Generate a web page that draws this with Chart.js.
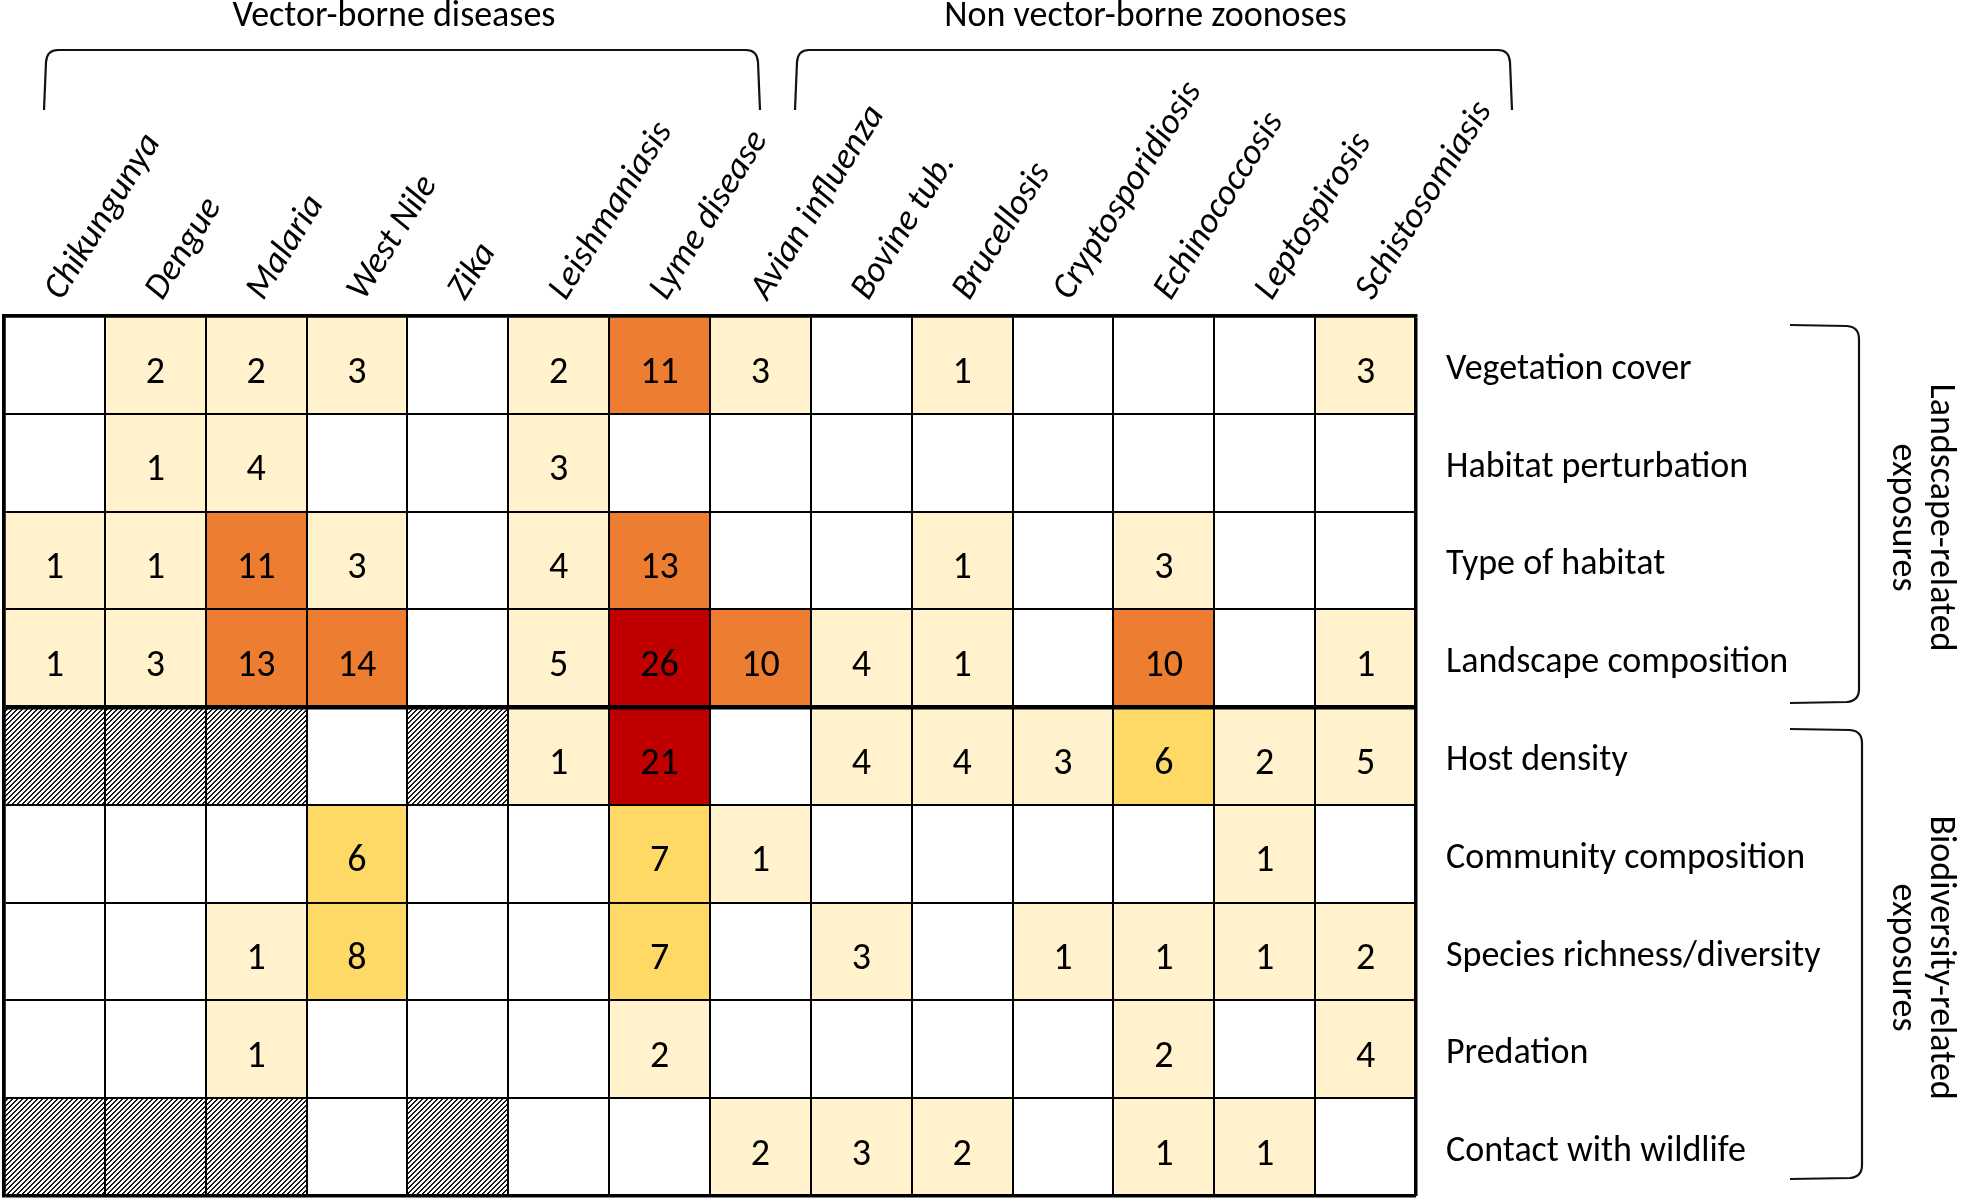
<!DOCTYPE html>
<html>
<head>
<meta charset="utf-8">
<title>Exposures by disease</title>
<script src="https://cdn.jsdelivr.net/npm/chart.js@4.4.1/dist/chart.umd.min.js"></script>
<style>
  html, body { margin: 0; padding: 0; background: #fff; }
  canvas { display: block; }
</style>
</head>
<body>
<canvas id="heatmap" width="1961" height="1199"></canvas>
<script>
'use strict';

// columns (diseases) and rows (exposures)
const diseases = ['Chikungunya', 'Dengue', 'Malaria', 'West Nile', 'Zika', 'Leishmaniasis', 'Lyme disease',
  'Avian influenza', 'Bovine tub.', 'Brucellosis', 'Cryptosporidiosis', 'Echinococcosis', 'Leptospirosis', 'Schistosomiasis'];
const exposures = ['Vegetation cover', 'Habitat perturbation', 'Type of habitat', 'Landscape composition',
  'Host density', 'Community composition', 'Species richness/diversity', 'Predation', 'Contact with wildlife'];

const diseaseGroups = ['Vector-borne diseases', 'Non vector-borne zoonoses'];
const exposureGroups = [['Landscape-related', 'exposures'], ['Biodiversity-related', 'exposures']];

// number of studies per cell, null = none, NA = not applicable (hatched)
const NA = 'na';
const vegetationCover      = [null, 2, 2, 3, null, 2, 11, 3, null, 1, null, null, null, 3];
const habitatPerturbation  = [null, 1, 4, null, null, 3, null, null, null, null, null, null, null, null];
const typeOfHabitat        = [1, 1, 11, 3, null, 4, 13, null, null, 1, null, 3, null, null];
const landscapeComposition = [1, 3, 13, 14, null, 5, 26, 10, 4, 1, null, 10, null, 1];
const hostDensity          = [NA, NA, NA, null, NA, 1, 21, null, 4, 4, 3, 6, 2, 5];
const communityComposition = [null, null, null, 6, null, null, 7, 1, null, null, null, null, 1, null];
const speciesRichness      = [null, null, 1, 8, null, null, 7, null, 3, null, 1, 1, 1, 2];
const predation            = [null, null, 1, null, null, null, 2, null, null, null, null, 2, null, 4];
const contactWithWildlife  = [NA, NA, NA, null, NA, null, null, 2, 3, 2, null, 1, 1, null];

const counts = [vegetationCover, habitatPerturbation, typeOfHabitat, landscapeComposition,
  hostDensity, communityComposition, speciesRichness, predation, contactWithWildlife];

const FONT = 'Carlito, Lato, sans-serif';

let canvasEl = document.getElementById('heatmap');
let ctx = canvasEl.getContext('2d');

//diagonal hatch for the "not applicable" cells
function makeHatch() {
  let tile = document.createElement('canvas');
  tile.width = 5;
  tile.height = 5;
  let g = tile.getContext('2d');
  g.fillStyle = '#ffffff';
  g.fillRect(0, 0, 5, 5);
  g.fillStyle = '#1a1a1a';
  for (let x = 0; x < 5; x++) {
    for (let y = 0; y < 5; y++) {
      if ((x + y) % 5 < 2) g.fillRect(x, y, 1, 1);
    }
  }
  return ctx.createPattern(tile, 'repeat');
}
const hatch = makeHatch();

function cellColour(v) {
  if (v === NA) return hatch;
  if (v === null) return '#ffffff';
  if (v >= 20) return '#c00000';
  if (v >= 10) return '#ed7d31';
  if (v >= 6) return '#ffd966';
  return '#fff2cc';
}

// every cell is a unit bar, stacked row by row
const datasets = [];
for (let r = 0; r < exposures.length; r++) {
  datasets.push({
    label: exposures[r],
    data: diseases.map(() => 1),
    backgroundColor: counts[r].map(cellColour),
    borderWidth: 0,
    barPercentage: 1,
    categoryPercentage: 1,
    yAxisID: 'y'
  });
}

//writes the counts in the cells
const cellNumbers = {
  id: 'cellNumbers',
  afterDatasetsDraw(chart) {
    let c = chart.ctx;
    c.save();
    c.font = '38px ' + FONT;
    c.fillStyle = '#000';
    c.textAlign = 'center';
    c.textBaseline = 'middle';
    for (let r = 0; r < counts.length; r++) {
      let bars = chart.getDatasetMeta(r).data;
      for (let i = 0; i < bars.length; i++) {
        let v = counts[r][i];
        if (typeof v !== 'number') continue;
        c.fillText(String(v), bars[i].x, (bars[i].y + bars[i].base) / 2 + 8);
      }
    }
    c.restore();
  }
};

//group brackets and titles around the grid
const groupBrackets = {
  id: 'groupBrackets',
  afterDraw(chart) {
    let c = chart.ctx;
    let yScale = chart.scales.y;
    c.save();
    c.strokeStyle = '#111';
    c.lineWidth = 2.2;
    c.fillStyle = '#000';
    c.font = '36px ' + FONT;
    c.textAlign = 'center';
    c.textBaseline = 'middle';

    // top brackets
    const tops = [[44, 760], [795, 1512]];
    for (let g = 0; g < tops.length; g++) {
      let [x0, x1] = tops[g];
      c.beginPath();
      c.moveTo(x0, 110);
      c.lineTo(x0 + 2, 62);
      c.quadraticCurveTo(x0 + 3, 50, x0 + 14, 50);
      c.lineTo(x1 - 14, 50);
      c.quadraticCurveTo(x1 - 3, 50, x1 - 2, 62);
      c.lineTo(x1, 110);
      c.stroke();
      c.fillText(diseaseGroups[g], (x0 + x1) / 2 - 8, 17);
    }

    // right brackets
    const sides = [[325, 703, 1859], [729, 1179, 1862]];
    for (let g = 0; g < sides.length; g++) {
      let [y0, y1, xv] = sides[g];
      c.beginPath();
      c.moveTo(1790, y0);
      c.lineTo(xv - 12, y0 + 1);
      c.quadraticCurveTo(xv, y0 + 2, xv, y0 + 14);
      c.lineTo(xv, y1 - 14);
      c.quadraticCurveTo(xv, y1 - 2, xv - 12, y1 - 1);
      c.lineTo(1790, y1);
      c.stroke();
    }

    // rotated group titles
    const spans = [[0, 4], [4, 9]];
    for (let g = 0; g < spans.length; g++) {
      let mid = (yScale.getPixelForValue(spans[g][0]) + yScale.getPixelForValue(spans[g][1])) / 2 + 6;
      c.save();
      c.translate(1921, mid);
      c.rotate(Math.PI / 2);
      c.fillText(exposureGroups[g][0], 0, -19);
      c.fillText(exposureGroups[g][1], 0, 19);
      c.restore();
    }
    c.restore();
  }
};

// eslint-disable-next-line no-unused-vars
let heatChart = new Chart(ctx, {
  type: 'bar',
  data: {
    labels: diseases,
    datasets: datasets
  },
  options: {
    responsive: false,
    animation: false,
    events: [],
    layout: { padding: { left: 4, right: 0, top: 0, bottom: 3 } },
    plugins: {
      legend: { display: false },
      tooltip: { enabled: false }
    },
    scales: {
      x: {
        type: 'category',
        position: 'top',
        stacked: true,
        offset: true,
        grid: {
          offset: true,
          z: 1,
          color: '#000',
          drawTicks: false,
          lineWidth: (c) => (c.type !== 'tick' || c.index === 0) ? 3.5 : 2
        },
        border: { display: true, color: '#000', width: 3.5, z: 1 },
        ticks: {
          color: '#000',
          font: { family: FONT, size: 36, style: 'italic' },
          minRotation: 58,
          maxRotation: 58,
          autoSkip: false,
          labelOffset: 36,
          padding: 8
        },
        afterFit(s) {
          s.height = 316;
          s.paddingLeft = 0;
          s.paddingRight = 0;
        }
      },
      y: {
        type: 'linear',
        position: 'left',
        stacked: true,
        reverse: true,
        min: 0,
        max: 9,
        grid: {
          z: 1,
          color: '#000',
          drawTicks: false,
          lineWidth: (c) => {
            let v = c.tick ? c.tick.value : -1;
            if (v === 4) return 4.5;
            if (v === 0 || v === 9) return 3.5;
            return 2;
          }
        },
        border: { display: true, color: '#000', width: 3.5, z: 1 },
        ticks: { display: false, stepSize: 1 },
        afterFit(s) {
          s.width = 0;
          s.paddingTop = 0;
          s.paddingBottom = 0;
        }
      },
      rows: {
        type: 'linear',
        position: 'right',
        reverse: true,
        min: 0,
        max: 9,
        grid: { display: false },
        border: { display: false },
        ticks: {
          color: '#000',
          autoSkip: false,
          font: { family: FONT, size: 36 },
          padding: 22,
          labelOffset: 5,
          callback: (v, i) => exposures[i]
        },
        afterBuildTicks(s) {
          s.ticks = exposures.map((name, i) => ({ value: i + 0.5 }));
        },
        afterFit(s) {
          s.width = 545;
          s.paddingTop = 0;
          s.paddingBottom = 0;
        }
      }
    }
  },
  plugins: [cellNumbers, groupBrackets]
});
</script>
</body>
</html>
